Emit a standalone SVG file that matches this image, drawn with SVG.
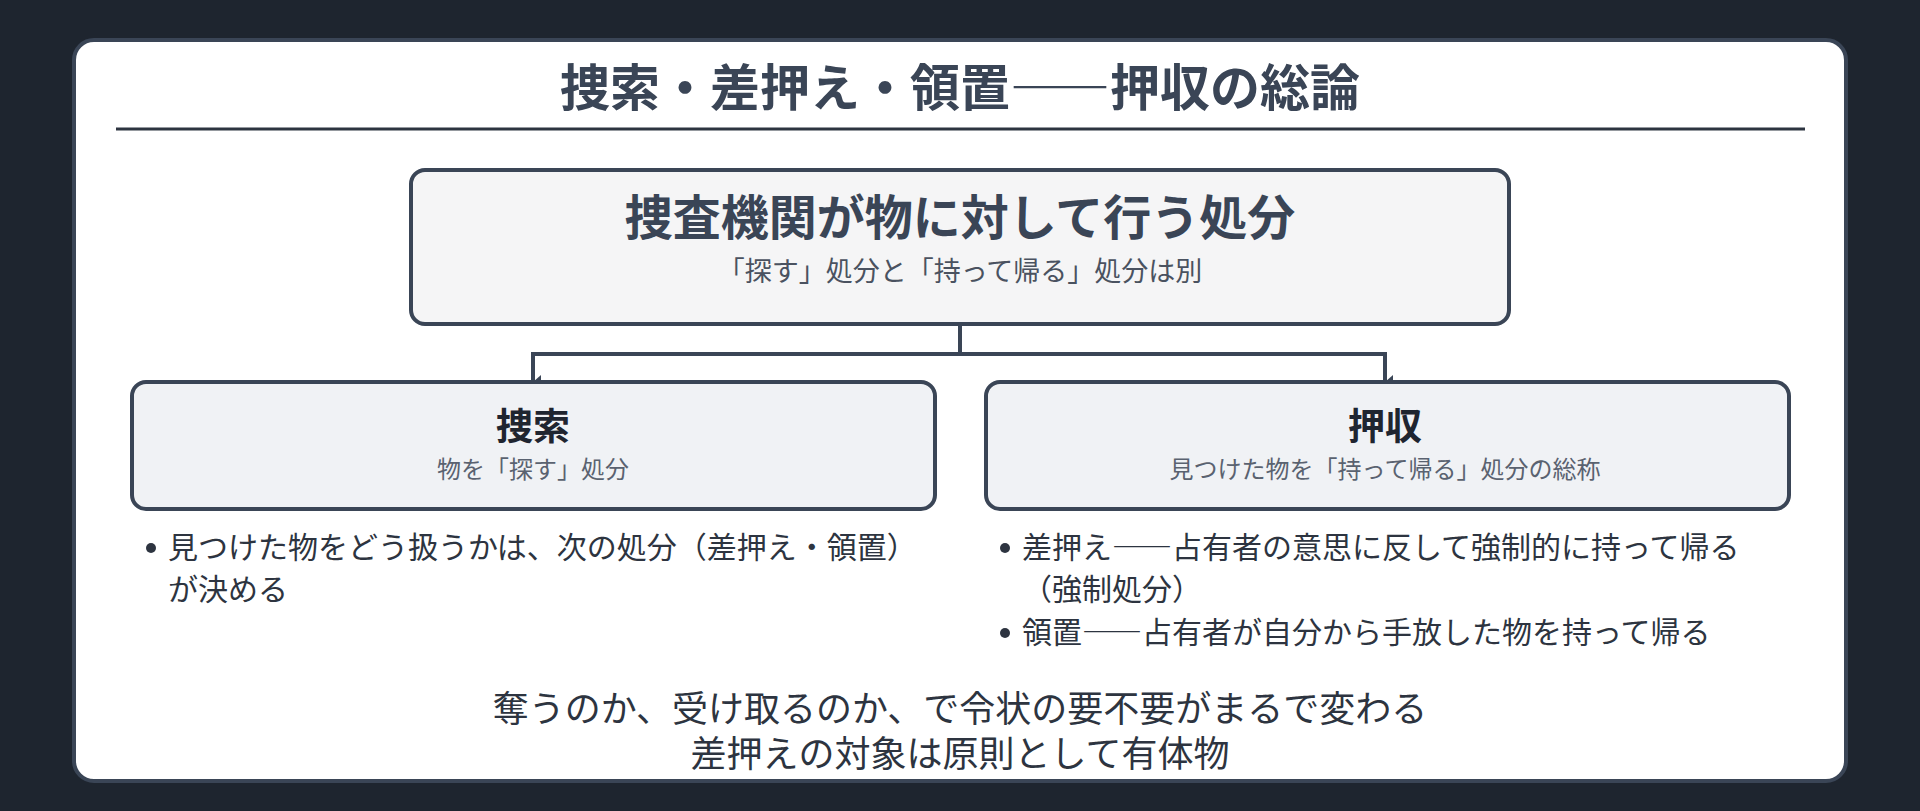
<svg xmlns="http://www.w3.org/2000/svg" width="1920" height="811" viewBox="0 0 1920 811">
  <defs>
    <style>
      .jp { font-family: "Noto Sans CJK JP", "Noto Sans", sans-serif; }
      .title { font-size: 50px; font-weight: 700; fill: #3a4556; }
      .mainT { font-size: 48px; font-weight: 700; fill: #3a4556; }
      .mainS { font-size: 27px; fill: #4a5260; }
      .boxT { font-size: 37px; font-weight: 700; fill: #1f2530; }
      .boxS { font-size: 24px; fill: #5a6270; }
      .bul { font-size: 30px; fill: #2d3440; }
      .foot { font-size: 36px; fill: #2d3440; }
      .dash { font-feature-settings: "fwid" 1; }
      .node { stroke: #3a4556; stroke-width: 4; }
      .conn { fill: none; stroke: #3a4556; stroke-width: 4; }
    </style>
    <marker id="arr" viewBox="0 0 14 8" refX="7" refY="8" markerWidth="14" markerHeight="8" markerUnits="userSpaceOnUse" orient="auto-start-reverse">
      <path d="M0,0 L14,0 L7,8 Z" fill="#3a4556"/>
    </marker>
  </defs>
  <rect x="0" y="0" width="1920" height="811" fill="#1e252f"/>
  <rect x="74" y="40" width="1772" height="741" rx="20" fill="#ffffff" stroke="#3a4556" stroke-width="4"/>
  <g id="header">
    <text class="jp title" x="960" y="106" text-anchor="middle">捜索・差押え・領置<tspan class="dash">——</tspan>押収の総論</text>
    <line x1="116" y1="129" x2="1805" y2="129" stroke="#2d3440" stroke-width="3"/>
  </g>
  <g id="connectors">
    <path class="conn" d="M960,324 V354 M533,354 H1385"/>
    <path class="conn" d="M533,352 V382" marker-end="url(#arr)"/>
    <path class="conn" d="M1385,352 V382" marker-end="url(#arr)"/>
  </g>
  <g id="node-main">
    <rect class="node" x="411" y="170" width="1098" height="154" rx="14" fill="#f5f5f6"/>
    <text class="jp mainT" x="960" y="235" text-anchor="middle">捜査機関が物に対して行う処分</text>
    <text class="jp mainS" x="960" y="281" text-anchor="middle">「探す」処分と「持って帰る」処分は別</text>
  </g>
  <g id="node-search">
    <rect class="node" x="132" y="382" width="803" height="127" rx="14" fill="#f0f2f5"/>
    <text class="jp boxT" x="533" y="440" text-anchor="middle">捜索</text>
    <text class="jp boxS" x="533" y="478" text-anchor="middle">物を「探す」処分</text>
  </g>
  <g id="node-seizure">
    <rect class="node" x="986" y="382" width="803" height="127" rx="14" fill="#f0f2f5"/>
    <text class="jp boxT" x="1385" y="440" text-anchor="middle">押収</text>
    <text class="jp boxS" x="1385" y="478" text-anchor="middle">見つけた物を「持って帰る」処分の総称</text>
  </g>
  <g id="notes-search">
    <circle cx="151" cy="548" r="5" fill="#2d3440"/>
    <text class="jp bul" x="168" y="558">見つけた物をどう扱うかは、次の処分（差押え・領置）</text>
    <text class="jp bul" x="168" y="600">が決める</text>
  </g>
  <g id="notes-seizure">
    <circle cx="1005" cy="548" r="5" fill="#2d3440"/>
    <text class="jp bul" x="1022" y="558">差押え<tspan class="dash">——</tspan>占有者の意思に反して強制的に持って帰る</text>
    <text class="jp bul" x="1022" y="600">（強制処分）</text>
    <circle cx="1005" cy="633" r="5" fill="#2d3440"/>
    <text class="jp bul" x="1022" y="643">領置<tspan class="dash">——</tspan>占有者が自分から手放した物を持って帰る</text>
  </g>
  <g id="footer">
    <text class="jp foot" x="960" y="722" text-anchor="middle">奪うのか、受け取るのか、で令状の要不要がまるで変わる</text>
    <text class="jp foot" x="960" y="767" text-anchor="middle">差押えの対象は原則として有体物</text>
  </g>
</svg>
